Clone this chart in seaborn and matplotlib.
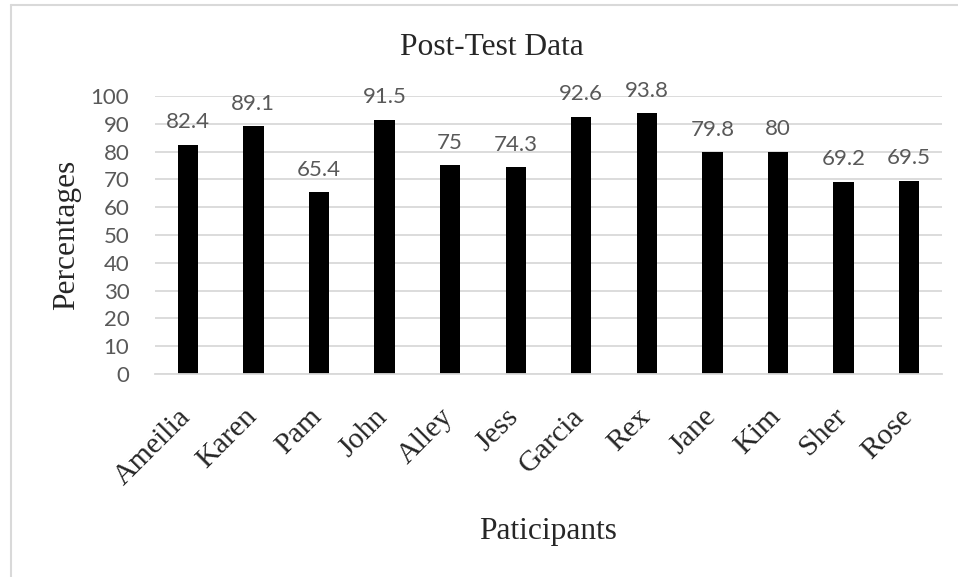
import numpy as np
import matplotlib
matplotlib.use("Agg")
import matplotlib.pyplot as plt
import matplotlib.transforms as mtransforms
from matplotlib.lines import Line2D
import seaborn as sns

participants = ["Ameilia", "Karen", "Pam", "John", "Alley", "Jess",
                "Garcia", "Rex", "Jane", "Kim", "Sher", "Rose"]
percentages = [82.4, 89.1, 65.4, 91.5, 75, 74.3, 92.6, 93.8, 79.8, 80, 69.2, 69.5]
y_ticks = [0, 10, 20, 30, 40, 50, 60, 70, 80, 90, 100]

title = "Post-Test Data"
x_title = "Paticipants"
y_title = "Percentages"

sns.set_style("white")
plt.rcParams["font.family"] = ["Liberation Serif", "DejaVu Sans"]

W, H = 958, 577
fig = plt.figure(figsize=(W / 100, H / 100), dpi=100)
ax = fig.add_axes([155 / W, 1 - 374 / H, (942 - 155) / W, (374 - 96) / H])

sns.barplot(x=participants, y=percentages, color="black", saturation=1,
            width=0.31, linewidth=0, ax=ax)

grid_c = "#d9d9d9"
ax.set_ylim(0, 100)
ax.set_xlim(-0.5, len(participants) - 0.5)
ax.set_yticks(y_ticks)
ax.yaxis.grid(True, color=grid_c, linewidth=1.3)
ax.xaxis.grid(False)
ax.set_axisbelow(True)
for s in ["left", "right", "top"]:
    ax.spines[s].set_visible(False)
ax.spines["bottom"].set_color(grid_c)
ax.spines["bottom"].set_linewidth(1.3)

ax.tick_params(axis="y", length=0, pad=18.5, labelsize=16, labelcolor="#595959")
for lab in ax.get_yticklabels():
    lab.set_family("Lato")

ax.set_xticks(range(len(participants)))
ax.set_xticklabels(participants, rotation=45, ha="right", va="center",
                   rotation_mode="anchor", fontsize=21.5, family="Liberation Serif")
ax.tick_params(axis="x", which="major", length=0, pad=28)
ax.set_xticks(np.arange(-0.5, len(participants), 1.0), minor=True)
ax.tick_params(axis="x", which="minor", length=5.8, width=1.3, color=grid_c,
               direction="out")
offset = mtransforms.ScaledTranslation(-1 / 100, 0, fig.dpi_scale_trans)
for lab in ax.get_xticklabels():
    lab.set_transform(lab.get_transform() + offset)

ax.set_xlabel("")
ax.set_ylabel("")

ax.bar_label(ax.containers[0], fmt="%g", padding=9, fontsize=16,
             color="#595959", family="Lato")

fig.text(491.5 / W, 1 - 55 / H, title, ha="center", va="baseline",
         fontsize=22.7, family="Liberation Serif")
fig.text(548.5 / W, 1 - 539 / H, x_title, ha="center", va="baseline",
         fontsize=22.6, family="Liberation Serif")
fig.text(67 / W, 1 - 235 / H, y_title, rotation=90, ha="center", va="center",
         fontsize=22.6, family="Liberation Serif")

fig.add_artist(Line2D([11 / W, 11 / W], [0, 1 - 5 / H], color=grid_c, lw=1.5,
                      transform=fig.transFigure))
fig.add_artist(Line2D([11 / W, 1], [1 - 5 / H, 1 - 5 / H], color=grid_c, lw=1.5,
                      transform=fig.transFigure))

fig.savefig("out.png", dpi=100)
